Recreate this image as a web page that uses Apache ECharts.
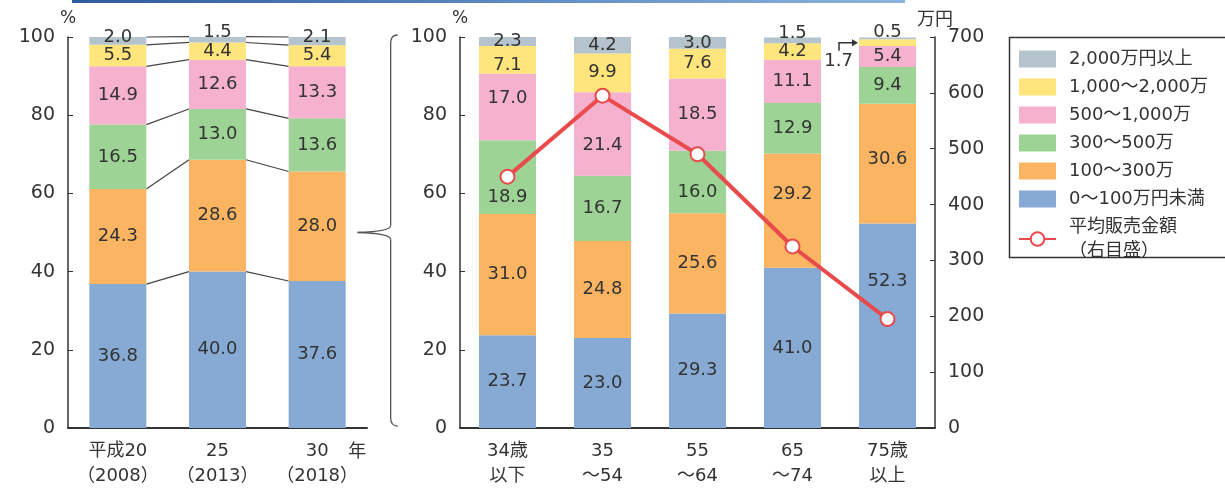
<!DOCTYPE html>
<html lang="ja">
<head>
<meta charset="utf-8">
<title>販売金額規模別の経営体数割合</title>
<style>
    html, body { margin: 0; padding: 0; background: #fff; }
    #main { width: 1225px; height: 489px; }
</style>
</head>
<body>
<div id="main"></div>
<script src="https://cdn.jsdelivr.net/npm/echarts@6/dist/echarts.min.js"></script>
<script>
// ---- data ----
// legend order (top -> bottom)
var bandNames = ['2,000万円以上', '1,000～2,000万', '500～1,000万', '300～500万', '100～300万', '0～100万円未満'];
var lineName = '平均販売金額\n（右目盛）';

// left: by year
var yearLabels = ['平成20\n（2008）', '25\n（2013）', '30\n（2018）'];
var year_0_100     = [36.8, 40.0, 37.6];
var year_100_300   = [24.3, 28.6, 28.0];
var year_300_500   = [16.5, 13.0, 13.6];
var year_500_1000  = [14.9, 12.6, 13.3];
var year_1000_2000 = [5.5, 4.4, 5.4];
var year_2000_over = [2.0, 1.5, 2.1];

// right: by age (2018)
var ageLabels = ['34歳\n以下', '35\n～54', '55\n～64', '65\n～74', '75歳\n以上'];
var age_0_100     = [23.7, 23.0, 29.3, 41.0, 52.3];
var age_100_300   = [31.0, 24.8, 25.6, 29.2, 30.6];
var age_300_500   = [18.9, 16.7, 16.0, 12.9, 9.4];
var age_500_1000  = [17.0, 21.4, 18.5, 11.1, 5.4];
var age_1000_2000 = [7.1, 9.9, 7.6, 4.2, 1.7];
var age_2000_over = [2.3, 4.2, 3.0, 1.5, 0.5];
var avgSales      = [450, 595, 490, 325, 195];   // 万円, right axis

// ---- style ----
var FONT = "'DejaVu Sans', 'Noto Sans CJK JP', sans-serif";
var CJK = "'Noto Sans CJK JP', 'DejaVu Sans', sans-serif";
var TXT = '#333';
var BAR_W = 57;
// stacking order bottom -> top
var bandColors = ['#86aad3', '#fbb562', '#9dd496', '#f6b1cf', '#ffe57c', '#b5c4cc'];
var yearStack = [year_0_100, year_100_300, year_300_500, year_500_1000, year_1000_2000, year_2000_over];
var ageStack  = [age_0_100, age_100_300, age_300_500, age_500_1000, age_1000_2000, age_2000_over];
var stackNames = bandNames.slice().reverse();

// small label shifts so the numbers sit like in the printed figure  [band, index, dy]
var yearNudge = [[5, 0, -4], [5, 1, -7], [5, 2, -4]];
var ageNudge = [[5, 3, -7], [5, 4, -6], [2, 0, 20], [3, 0, -9], [4, 0, 5], [3, 1, 11],
                [2, 2, 10], [1, 3, -16], [0, 4, -44], [1, 4, -4]];
var calloutBand = 4, calloutIdx = 4;   // "1.7" drawn outside with an arrow

function nudgeOf(list, b, i) {
    for (var n = 0; n < list.length; n++) {
        if (list[n][0] === b && list[n][1] === i) return list[n][2];
    }
    return 0;
}

var labelBase = {
    show: true, position: 'inside', color: TXT, fontSize: 18, fontFamily: FONT,
    formatter: function (p) { return Number(p.value).toFixed(1); }
};

var series = [];
yearStack.forEach(function (arr, b) {
    series.push({
        name: stackNames[b], type: 'bar', stack: 'year', xAxisIndex: 0, yAxisIndex: 0,
        barWidth: BAR_W, itemStyle: { color: bandColors[b] }, label: labelBase,
        data: arr.map(function (v, i) {
            return { value: v, label: { offset: [0, nudgeOf(yearNudge, b, i)] } };
        })
    });
});
ageStack.forEach(function (arr, b) {
    series.push({
        name: stackNames[b], type: 'bar', stack: 'age', xAxisIndex: 1, yAxisIndex: 1,
        barWidth: BAR_W, itemStyle: { color: bandColors[b] }, label: labelBase,
        data: arr.map(function (v, i) {
            if (b === calloutBand && i === calloutIdx) {
                return { value: v, label: { position: 'left', distance: 6, offset: [0, 19] } };
            }
            return { value: v, label: { offset: [0, nudgeOf(ageNudge, b, i)] } };
        })
    });
});

// connector lines between the year bars (cumulative boundaries)
var connectors = [];
for (var i = 0; i < yearLabels.length - 1; i++) {
    var a = 0, c = 0;
    for (var k = 0; k < yearStack.length; k++) {
        a += yearStack[k][i];
        c += yearStack[k][i + 1];
        connectors.push([i, a, c]);
    }
}
series.push({
    type: 'custom', xAxisIndex: 0, yAxisIndex: 0, silent: true, z: 1,
    data: connectors,
    encode: { x: 0, y: [1, 2] },
    renderItem: function (params, api) {
        var idx = api.value(0);
        var p1 = api.coord([idx, api.value(1)]);
        var p2 = api.coord([idx + 1, api.value(2)]);
        return {
            type: 'line',
            shape: { x1: p1[0] + BAR_W / 2, y1: p1[1], x2: p2[0] - BAR_W / 2, y2: p2[1] },
            style: { stroke: '#444', lineWidth: 1.2 }
        };
    }
});

// arrow for the callout label
var calloutY = 0;
for (var k2 = 0; k2 < calloutBand; k2++) calloutY += ageStack[k2][calloutIdx];
calloutY += ageStack[calloutBand][calloutIdx] / 2;
series.push({
    type: 'custom', xAxisIndex: 1, yAxisIndex: 1, silent: true, z: 5,
    data: [[calloutIdx, calloutY]],
    renderItem: function (params, api) {
        var p = api.coord([api.value(0), api.value(1)]);
        var x = p[0] - BAR_W / 2, y = p[1];
        return {
            type: 'group',
            children: [
                { type: 'polyline', shape: { points: [[x - 20, y + 8], [x - 20, y], [x - 6, y]] },
                  style: { stroke: TXT, lineWidth: 1.5, fill: null } },
                { type: 'polygon', shape: { points: [[x - 1, y], [x - 7, y - 3.5], [x - 7, y + 3.5]] },
                  style: { fill: TXT } }
            ]
        };
    }
});

// average sales line (right axis)
series.push({
    name: lineName, type: 'line', xAxisIndex: 1, yAxisIndex: 2, z: 6,
    data: avgSales,
    symbol: 'circle', symbolSize: 14,
    lineStyle: { color: '#e94a4b', width: 4 },
    itemStyle: { color: '#fff', borderColor: '#e94a4b', borderWidth: 2 }
});

var pctAxis = function (grid) {
    return {
        type: 'value', gridIndex: grid, min: 0, max: 100, interval: 20,
        name: '%', nameGap: 10,
        nameTextStyle: { color: TXT, fontSize: 17, fontFamily: FONT },
        axisLine: { show: true, lineStyle: { color: TXT, width: 1.5 } },
        axisTick: { show: true, inside: true, length: 5, lineStyle: { color: TXT } },
        axisLabel: { color: TXT, fontSize: 19, fontFamily: FONT, margin: 13 },
        splitLine: { show: false }
    };
};
var catAxis = function (grid, labels) {
    return {
        type: 'category', gridIndex: grid, data: labels,
        axisLine: { lineStyle: { color: TXT, width: 2 } },
        axisTick: { show: false },
        axisLabel: { color: TXT, fontSize: 18, fontFamily: FONT, lineHeight: 25, margin: 11, interval: 0 }
    };
};

var rightAxis = {
    type: 'value', gridIndex: 1, position: 'right', min: 0, max: 700, interval: 100,
    name: '万円', nameGap: 10,
    nameTextStyle: { color: TXT, fontSize: 18, fontFamily: CJK },
    axisLine: { show: true, lineStyle: { color: TXT, width: 1.5 } },
    axisTick: { show: true, inside: true, length: 5, lineStyle: { color: TXT } },
    axisLabel: { color: TXT, fontSize: 19, fontFamily: FONT, margin: 13 },
    splitLine: { show: false }
};

var chart = echarts.init(document.getElementById('main'));
chart.setOption({
    animation: false,
    textStyle: { fontFamily: FONT },
    grid: [
        { left: 68, right: 858, top: 37, bottom: 59 },
        { left: 460, right: 290, top: 37, bottom: 59 }
    ],
    xAxis: [catAxis(0, yearLabels), catAxis(1, ageLabels)],
    yAxis: [pctAxis(0), pctAxis(1), rightAxis],
    legend: {
        orient: 'vertical', left: 1018, top: 47, padding: 0,
        itemWidth: 37, itemHeight: 17, itemGap: 4, selectedMode: false,
        data: bandNames.map(function (n) { return { name: n, icon: 'rect' }; }).concat([{ name: lineName }]),
        textStyle: { color: TXT, fontSize: 18, fontFamily: FONT, lineHeight: 24, padding: [0, 0, 0, 8] }
    },
    series: series
});

// decorations: top rule, legend frame, "年" unit, brace between the two panels
var tip = chart.convertToPixel({ xAxisIndex: 0, yAxisIndex: 0 }, [2, 50]);
var top100 = chart.convertToPixel({ xAxisIndex: 0, yAxisIndex: 0 }, [2, 100]);
var bot0 = chart.convertToPixel({ xAxisIndex: 0, yAxisIndex: 0 }, [2, 0]);
var xTip = tip[0] + BAR_W / 2 + 12, xLine = xTip + 33, xEnd = xLine + 7;
var yT = top100[1] - 2, yM = tip[1], yB = bot0[1] - 2;
var braceStyle = { fill: null, stroke: '#555', lineWidth: 1.3 };

chart.setOption({
    graphic: [
        { type: 'rect', shape: { x: 72, y: 0, width: 833, height: 3 },
          style: { fill: { type: 'linear', x: 0, y: 0, x2: 1, y2: 0,
              colorStops: [{ offset: 0, color: '#2c5ca0' }, { offset: 1, color: '#8cb4de' }] } } },
        { type: 'rect', shape: { x: 1009.5, y: 37.5, width: 230, height: 220 },
          style: { fill: null, stroke: TXT, lineWidth: 1.5 } },
        { type: 'text', x: tip[0] + 31, y: bot0[1] + 13,
          style: { text: '年', fill: TXT, fontSize: 18, fontFamily: CJK } },
        { type: 'bezierCurve', shape: { x1: xEnd, y1: yT, cpx1: xLine, cpy1: yT, x2: xLine, y2: yT + 8 }, style: braceStyle },
        { type: 'line', shape: { x1: xLine, y1: yT + 8, x2: xLine, y2: yM - 7 }, style: braceStyle },
        { type: 'bezierCurve', shape: { x1: xLine, y1: yM - 7, cpx1: xLine, cpy1: yM - 1, x2: xTip, y2: yM }, style: braceStyle },
        { type: 'bezierCurve', shape: { x1: xTip, y1: yM, cpx1: xLine, cpy1: yM + 1, x2: xLine, y2: yM + 7 }, style: braceStyle },
        { type: 'line', shape: { x1: xLine, y1: yM + 7, x2: xLine, y2: yB - 8 }, style: braceStyle },
        { type: 'bezierCurve', shape: { x1: xLine, y1: yB - 8, cpx1: xLine, cpy1: yB, x2: xEnd, y2: yB }, style: braceStyle }
    ]
});
</script>
</body>
</html>
